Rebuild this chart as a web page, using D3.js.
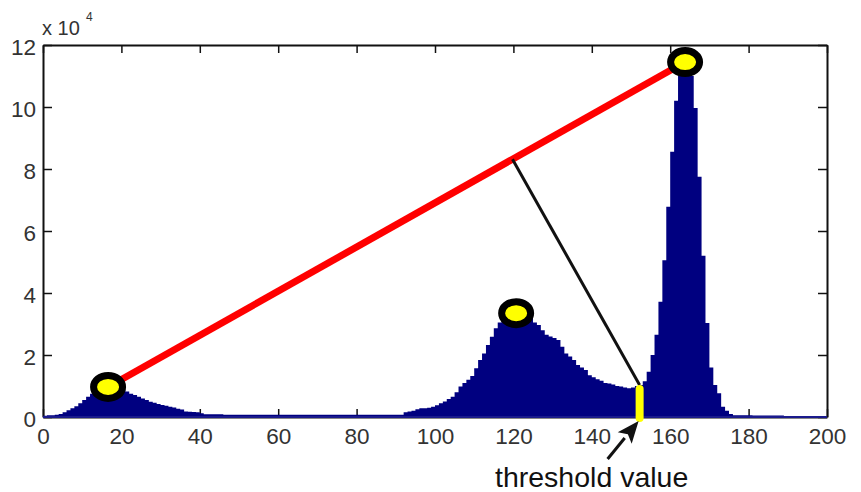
<!DOCTYPE html>
<html>
<head>
<meta charset="utf-8">
<script src="https://cdn.jsdelivr.net/npm/d3@7"></script>
<style>
  body { margin: 0; background: #fff; }
  svg { display: block; font-family: Arial, "Liberation Sans", sans-serif; }
</style>
</head>
<body>
<div id="vis"></div>
<script>
// histogram counts per grey level (units of 10^4), bins 0..199
var counts = [
  0.04, 0.06, 0.06, 0.07, 0.10, 0.15, 0.22, 0.28, 0.35, 0.44,
  0.55, 0.65, 0.75, 0.85, 0.90, 0.95, 0.97, 0.97, 0.95, 0.92,
  0.88, 0.82, 0.75, 0.71, 0.65, 0.60, 0.55, 0.49, 0.46, 0.42,
  0.39, 0.36, 0.33, 0.31, 0.27, 0.24, 0.18, 0.17, 0.16, 0.15,
  0.12, 0.09, 0.09, 0.09, 0.09, 0.09, 0.07, 0.07, 0.07, 0.07,
  0.07, 0.07, 0.07, 0.07, 0.07, 0.07, 0.07, 0.07, 0.07, 0.07,
  0.07, 0.07, 0.07, 0.07, 0.07, 0.07, 0.07, 0.07, 0.07, 0.07,
  0.07, 0.07, 0.07, 0.07, 0.07, 0.07, 0.07, 0.07, 0.07, 0.07,
  0.07, 0.07, 0.07, 0.07, 0.07, 0.07, 0.07, 0.07, 0.07, 0.07,
  0.07, 0.07, 0.15, 0.18, 0.20, 0.25, 0.28, 0.28, 0.30, 0.33,
  0.38, 0.44, 0.50, 0.58, 0.65, 0.80, 0.98, 1.10, 1.20, 1.32,
  1.57, 1.84, 2.05, 2.32, 2.59, 2.86, 3.05, 3.15, 3.25, 3.30,
  3.35, 3.38, 3.35, 3.30, 3.20, 3.05, 2.97, 2.80, 2.65, 2.60,
  2.55, 2.48, 2.27, 2.05, 1.95, 1.84, 1.68, 1.60, 1.52, 1.35,
  1.28, 1.22, 1.17, 1.10, 1.08, 1.05, 1.00, 0.98, 0.95, 0.93,
  0.95, 1.00, 1.03, 1.15, 1.46, 2.00, 2.65, 3.72, 5.06, 6.78,
  8.56, 10.2, 11.0, 11.4, 11.5, 11.0, 9.97, 7.75, 5.20, 3.03,
  1.60, 1.03, 0.77, 0.33, 0.20, 0.10, 0.06, 0.06, 0.06, 0.06,
  0.06, 0.05, 0.05, 0.05, 0.05, 0.05, 0.05, 0.05, 0.05, 0,
  0, 0, 0, 0, 0, 0, 0, 0, 0, 0
];

// marked peaks (x = grey level, y = count x 10^4)
var peakX = [16.6, 120.7, 163.8];
var peakY = [0.97, 3.35, 11.45];

var thresholdX = 152.2;
var thresholdY = 1.03;

var xTicks = [0, 20, 40, 60, 80, 100, 120, 140, 160, 180, 200];
var yTicks = [0, 2, 4, 6, 8, 10, 12];

var W = 861, H = 492;
var x = d3.scaleLinear().domain([0, 200]).range([43, 827]);
var y = d3.scaleLinear().domain([0, 12]).range([417, 45]);

var svg = d3.select('#vis').append('svg')
  .attr('width', W).attr('height', H);

svg.append('rect').attr('width', W).attr('height', H).attr('fill', '#fff');

// axes (ticks inside, matlab style)
var gx = svg.append('g').attr('transform', 'translate(0,' + y(0) + ')')
  .call(d3.axisBottom(x).tickValues(xTicks).tickSizeInner(-8).tickSizeOuter(0).tickPadding(11));
var gxt = svg.append('g').attr('transform', 'translate(0,' + y(12) + ')')
  .call(d3.axisTop(x).tickValues(xTicks).tickSizeInner(-8).tickSizeOuter(0).tickFormat(''));
var gy = svg.append('g').attr('transform', 'translate(' + x(0) + ',0)')
  .call(d3.axisLeft(y).tickValues(yTicks).tickSizeInner(-9).tickSizeOuter(0).tickPadding(7));
var gyr = svg.append('g').attr('transform', 'translate(' + x(200) + ',0)')
  .call(d3.axisRight(y).tickValues(yTicks).tickSizeInner(-9).tickSizeOuter(0).tickFormat(''));

[gx, gxt, gy, gyr].forEach(function (g) {
  g.selectAll('.domain').attr('stroke', '#111').attr('stroke-width', 2);
  g.selectAll('.tick line').attr('stroke', '#111').attr('stroke-width', 1.5);
  g.selectAll('text').attr('font-size', 22.5).attr('fill', '#333');
});
gy.selectAll('text').attr('dy', '0.42em');

// exponent label
svg.append('text').attr('x', 42).attr('y', 35)
  .attr('font-size', 20).attr('fill', '#333').text('x 10');
svg.append('text').attr('x', 86).attr('y', 21)
  .attr('font-size', 12).attr('fill', '#333').text('4');

// histogram as a stepped area
var pts = counts.map(function (v, i) { return [i, v]; });
pts.push([counts.length, counts[counts.length - 1]]);
var area = d3.area()
  .x(function (d) { return x(d[0]); })
  .y0(y(0))
  .y1(function (d) { return y(d[1]); })
  .curve(d3.curveStepAfter);
svg.append('path').datum(pts).attr('d', area).attr('fill', '#000080');

// navy baseline
svg.append('line')
  .attr('x1', x(0)).attr('x2', x(200))
  .attr('y1', y(0)).attr('y2', y(0))
  .attr('stroke', '#1a1a8c').attr('stroke-width', 2);

// red line between first and last peak
var p1 = [x(peakX[0]), y(peakY[0])];
var p3 = [x(peakX[2]), y(peakY[2])];
svg.append('line')
  .attr('x1', p1[0]).attr('y1', p1[1]).attr('x2', p3[0]).attr('y2', p3[1])
  .attr('stroke', '#ff0000').attr('stroke-width', 7);

// perpendicular from threshold point to red line
var tp = [x(thresholdX), y(thresholdY)];
var dx = p3[0] - p1[0], dy = p3[1] - p1[1];
var t = ((tp[0] - p1[0]) * dx + (tp[1] - p1[1]) * dy) / (dx * dx + dy * dy);
var foot = [p1[0] + t * dx, p1[1] + t * dy];
svg.append('line')
  .attr('x1', foot[0]).attr('y1', foot[1]).attr('x2', tp[0]).attr('y2', tp[1])
  .attr('stroke', '#111').attr('stroke-width', 3);

// threshold marker
svg.append('line')
  .attr('x1', x(thresholdX)).attr('x2', x(thresholdX))
  .attr('y1', y(thresholdY) + 4).attr('y2', y(0) + 1)
  .attr('stroke', '#ffff00').attr('stroke-width', 8).attr('stroke-linecap', 'round');

// peak circles
svg.selectAll('ellipse.peak')
  .data(peakX)
  .enter().append('ellipse')
  .attr('class', 'peak')
  .attr('cx', function (d) { return x(d); })
  .attr('cy', function (d, i) { return y(peakY[i]); })
  .attr('rx', 14.5).attr('ry', 11.5)
  .attr('fill', '#ffff00').attr('stroke', '#000').attr('stroke-width', 7);

// arrow pointing at threshold
var tip = [x(thresholdX) - 1, y(0) + 4];
var tail = [tip[0] - 31, tip[1] + 38];
var ux = tip[0] - tail[0], uy = tip[1] - tail[1];
var len = Math.sqrt(ux * ux + uy * uy);
ux /= len; uy /= len;
var headL = 22, headW = 9;
var base = [tip[0] - ux * headL, tip[1] - uy * headL];
svg.append('line')
  .attr('x1', tail[0]).attr('y1', tail[1]).attr('x2', base[0]).attr('y2', base[1])
  .attr('stroke', '#111').attr('stroke-width', 3);
svg.append('path')
  .attr('d', 'M' + tip + 'L' + [base[0] - uy * headW, base[1] + ux * headW] +
    'L' + [base[0] + ux * 5, base[1] + uy * 5] +
    'L' + [base[0] + uy * headW, base[1] - ux * headW] + 'Z')
  .attr('fill', '#111');

svg.append('text').attr('x', 495).attr('y', 487)
  .attr('font-size', 28.5).attr('fill', '#111').text('threshold value');
</script>
</body>
</html>
